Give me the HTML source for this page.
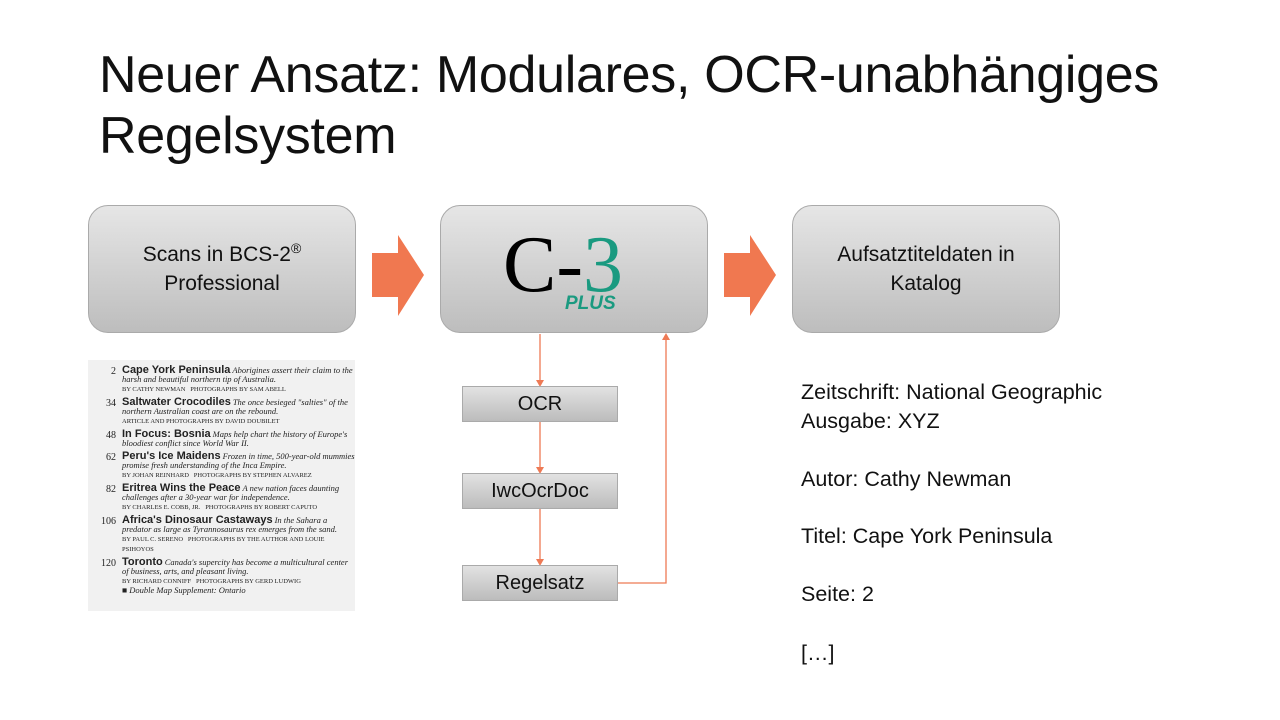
<!DOCTYPE html>
<html><head><meta charset="utf-8"><style>
body{margin:0;width:1280px;height:720px;background:#fff;position:relative;overflow:hidden;font-family:"Liberation Sans",sans-serif;}
.t{position:absolute;left:99px;font-size:52px;color:#111;white-space:nowrap;letter-spacing:-0.3px;line-height:60px}
.big{position:absolute;top:205px;width:266px;height:126px;border:1px solid #aaa;border-radius:20px;background:linear-gradient(#e6e6e6,#bdbdbd);display:flex;align-items:center;justify-content:center;text-align:center;font-size:21px;line-height:29px;color:#111}
.sm{position:absolute;left:462px;width:154px;height:34px;border:1px solid #aaa;background:linear-gradient(#e2e2e2,#bcbcbc);display:flex;align-items:center;justify-content:center;font-size:20px;color:#111}
.r{position:absolute;left:801px;font-size:21.5px;color:#111;white-space:nowrap}
.scan{position:absolute;left:88px;top:360px;width:267px;height:251px;background:#f1f1f1;font-family:"Liberation Serif",serif;font-size:8px;color:#222;line-height:9px}
.scan .e{position:relative;padding-left:34px;margin-top:4px}
.scan .n{position:absolute;left:4px;width:24px;text-align:right;top:1px;font-size:10px}
.scan b{font-family:"Liberation Sans",sans-serif;font-size:11px}
.scan i{font-size:8.5px}
.scan .by{font-size:6.5px}
</style></head><body>
<div class="t" style="top:45px">Neuer Ansatz: Modulares, OCR-unabhängiges</div>
<div class="t" style="top:106px">Regelsystem</div>

<div class="big" style="left:88px"><div>Scans in BCS-2<sup style="font-size:14px;line-height:0">®</sup><br>Professional</div></div>
<div class="big" style="left:440px">
 <div style="position:relative;width:266px;height:126px">
  <div style="position:absolute;left:62px;top:14px;font-family:'Liberation Serif',serif;font-size:80px;line-height:90px;color:#000">C-<span style="color:#1a9a80">3</span></div>
  <div style="position:absolute;left:124px;top:83px;font-size:19px;font-weight:bold;font-style:italic;color:#1a9a80">PLUS</div>
 </div>
</div>
<div class="big" style="left:792px"><div>Aufsatztiteldaten in<br>Katalog</div></div>

<svg width="1280" height="720" style="position:absolute;left:0;top:0">
<polygon points="372,253 398,253 398,235 424,275 398,316 398,297 372,297" fill="#f07850"/>
<polygon points="724,253 750,253 750,235 776,275 750,316 750,297 724,297" fill="#f07850"/>
<g stroke="#ee7a55" stroke-width="1.3" fill="none">
<line x1="540" y1="334" x2="540" y2="381"/>
<line x1="540" y1="421" x2="540" y2="468"/>
<line x1="540" y1="509" x2="540" y2="560"/>
<polyline points="617,583 666,583 666,339"/>
</g>
<g fill="#ee7a55">
<polygon points="536,380 544,380 540,387"/>
<polygon points="536,467 544,467 540,474"/>
<polygon points="536,559 544,559 540,566"/>
<polygon points="662,340 670,340 666,333"/>
</g>
</svg>

<div class="sm" style="top:386px">OCR</div>
<div class="sm" style="top:473px">IwcOcrDoc</div>
<div class="sm" style="top:565px">Regelsatz</div>

<div class="scan">
<div class="e" style="margin-top:6px"><span class="n">2</span><b>Cape York Peninsula</b> <i>Aborigines assert their claim to the harsh and beautiful northern tip of Australia.</i><br><span class="by">BY CATHY NEWMAN &nbsp; PHOTOGRAPHS BY SAM ABELL</span></div>
<div class="e"><span class="n">34</span><b>Saltwater Crocodiles</b> <i>The once besieged "salties" of the northern Australian coast are on the rebound.</i><br><span class="by">ARTICLE AND PHOTOGRAPHS BY DAVID DOUBILET</span></div>
<div class="e"><span class="n">48</span><b>In Focus: Bosnia</b> <i>Maps help chart the history of Europe's bloodiest conflict since World War II.</i></div>
<div class="e"><span class="n">62</span><b>Peru's Ice Maidens</b> <i>Frozen in time, 500-year-old mummies promise fresh understanding of the Inca Empire.</i><br><span class="by">BY JOHAN REINHARD &nbsp; PHOTOGRAPHS BY STEPHEN ALVAREZ</span></div>
<div class="e"><span class="n">82</span><b>Eritrea Wins the Peace</b> <i>A new nation faces daunting challenges after a 30-year war for independence.</i><br><span class="by">BY CHARLES E. COBB, JR. &nbsp; PHOTOGRAPHS BY ROBERT CAPUTO</span></div>
<div class="e"><span class="n">106</span><b>Africa's Dinosaur Castaways</b> <i>In the Sahara a predator as large as Tyrannosaurus rex emerges from the sand.</i><br><span class="by">BY PAUL C. SERENO &nbsp; PHOTOGRAPHS BY THE AUTHOR AND LOUIE PSIHOYOS</span></div>
<div class="e"><span class="n">120</span><b>Toronto</b> <i>Canada's supercity has become a multicultural center of business, arts, and pleasant living.</i><br><span class="by">BY RICHARD CONNIFF &nbsp; PHOTOGRAPHS BY GERD LUDWIG</span><br><i>■ Double Map Supplement: Ontario</i></div>
</div>

<div class="r" style="top:380px">Zeitschrift: National Geographic</div>
<div class="r" style="top:409px">Ausgabe: XYZ</div>
<div class="r" style="top:467px">Autor: Cathy Newman</div>
<div class="r" style="top:524px">Titel: Cape York Peninsula</div>
<div class="r" style="top:582px">Seite: 2</div>
<div class="r" style="top:641px">[…]</div>
</body></html>
